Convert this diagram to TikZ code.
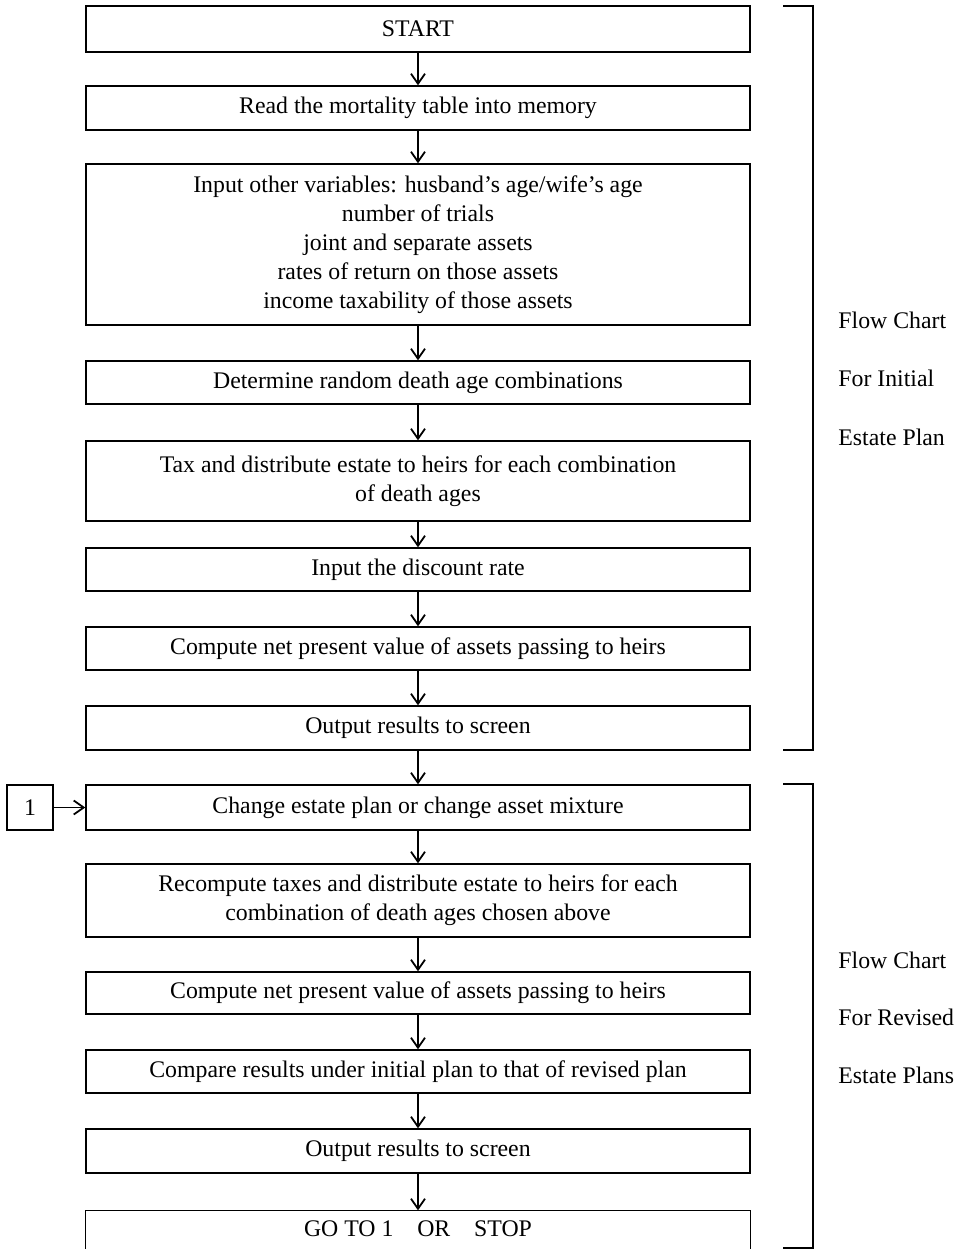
\documentclass[tikz,border=0pt]{standalone}
\usepackage{fontspec}
\setmainfont{Liberation Serif}
\usetikzlibrary{arrows.meta}
\begin{document}
\begin{tikzpicture}[x=0.5pt,y=-0.5pt,
  box/.style={draw,line width=0.7pt,minimum width=332pt,inner sep=0pt,align=center,font=\fontsize{11.9}{14.5}\selectfont},
  openbox/.style={box,draw=none},
  side/.style={anchor=west,inner sep=0pt,font=\fontsize{11.9}{14.5}\selectfont},
  arr/.style={line width=0.75pt,-{Straight Barb[length=5pt,width=7pt,line width=0.9pt]}},
  brk/.style={line width=0.8pt}]
\useasboundingbox (0,0) rectangle (961,1249);
\node[box,minimum height=23pt] (start) at (418,29) {START};
\node[box,minimum height=22pt] (read) at (418,108) {Read the mortality table into memory};
\node[box,minimum height=80.5pt] (input) at (418,244.5) {Input other variables: husband's age/wife's age\\number of trials\\joint and separate assets\\rates of return on those assets\\income taxability of those assets};
\node[box,minimum height=21.5pt] (det) at (418,382.5) {Determine random death age combinations};
\node[box,minimum height=40pt] (tax) at (418,481) {Tax and distribute estate to heirs for each combination\\of death ages};
\node[box,minimum height=21.5pt] (disc) at (418,569.5) {Input the discount rate};
\node[box,minimum height=21.5pt] (npv) at (418,648.5) {Compute net present value of assets passing to heirs};
\node[box,minimum height=22pt] (out) at (418,728) {Output results to screen};
\node[box,minimum height=22.5pt] (change) at (418,807.5) {Change estate plan or change asset mixture};
\node[box,minimum height=36.5pt] (recomp) at (418,900.5) {Recompute taxes and distribute estate to heirs for each\\combination of death ages chosen above};
\node[box,minimum height=21pt] (npv2) at (418,993) {Compute net present value of assets passing to heirs};
\node[box,minimum height=21.5pt] (comp) at (418,1071.5) {Compare results under initial plan to that of revised plan};
\node[box,minimum height=22pt] (out2) at (418,1151) {Output results to screen};
\node[openbox,minimum height=19pt] (goto) at (418,1230) {\raisebox{1.5pt}{GO TO 1\quad OR\quad STOP}};
\draw[line width=0.7pt] (goto.south west) -- (goto.north west) -- (goto.north east) -- (goto.south east);
\node[box,minimum width=23pt,minimum height=22.5pt] (one) at (30,807.5) {1};
\draw[arr] (start) -- (read);
\draw[arr] (read) -- (input);
\draw[arr] (input) -- (det);
\draw[arr] (det) -- (tax);
\draw[arr] (tax) -- (disc);
\draw[arr] (disc) -- (npv);
\draw[arr] (npv) -- (out);
\draw[arr] (out) -- (change);
\draw[arr] (change) -- (recomp);
\draw[arr] (recomp) -- (npv2);
\draw[arr] (npv2) -- (comp);
\draw[arr] (comp) -- (out2);
\draw[arr] (out2) -- (goto.north);
\draw[arr] (one) -- (change);
\draw[brk] (783,6) -- (813,6) -- (813,750) -- (783,750);
\draw[brk] (783,784) -- (813,784) -- (813,1248) -- (783,1248);
\node[side] (s1) at (838,320) {Flow Chart};
\node[side] (s2) at (838,378) {For Initial};
\node[side] (s3) at (838,437) {Estate Plan};
\node[side] (s4) at (838,960) {Flow Chart};
\node[side] (s5) at (838,1017) {For Revised};
\node[side] (s6) at (838,1075) {Estate Plans};
\end{tikzpicture}
\end{document}
